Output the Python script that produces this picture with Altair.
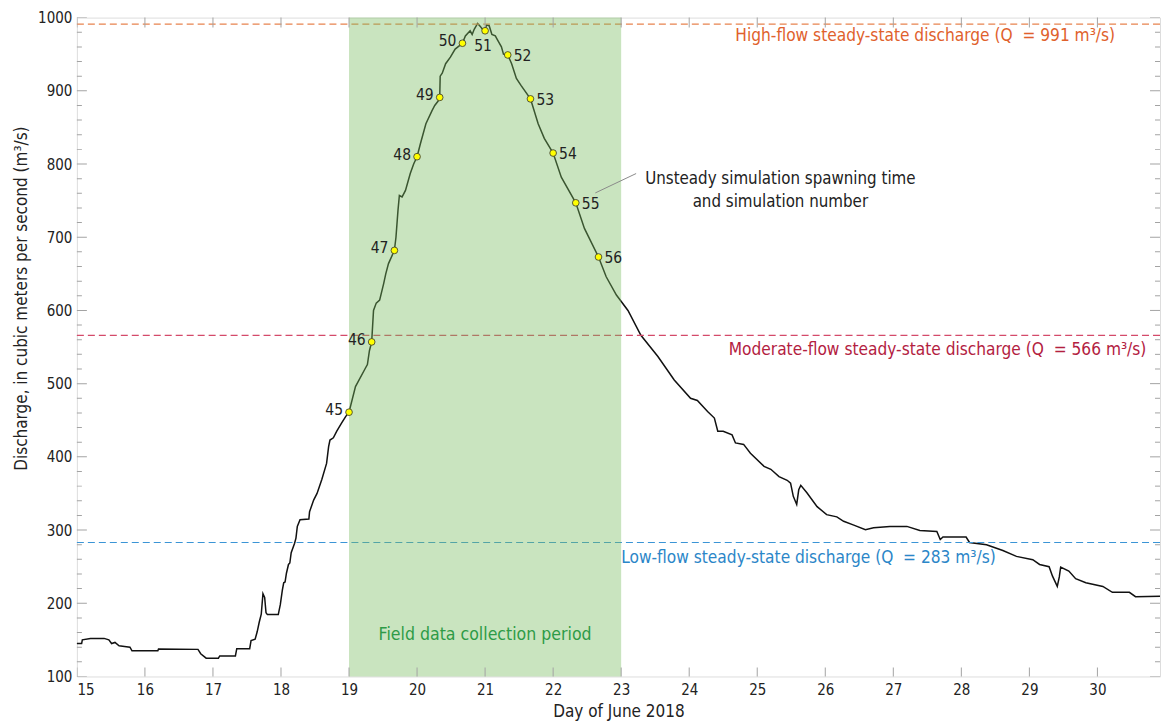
import altair as alt
import pandas as pd

# ---------------- data ----------------
day = [15.00, 15.07, 15.08, 15.20, 15.40, 15.47, 15.51, 15.56, 15.62, 15.70, 15.78, 15.81,
       16.19, 16.20, 16.78, 16.82, 16.90, 17.08, 17.10, 17.33, 17.35, 17.54, 17.56, 17.62,
       17.65, 17.68, 17.71, 17.735, 17.76, 17.78, 17.80, 17.96, 17.99, 18.02, 18.04, 18.06,
       18.08, 18.11, 18.13, 18.15, 18.20, 18.22, 18.24, 18.28, 18.41, 18.42, 18.48, 18.53,
       18.60, 18.67, 18.70, 18.72, 18.77, 18.82, 18.89, 18.95, 19.00, 19.095, 19.24, 19.27,
       19.30, 19.333, 19.36, 19.40, 19.45, 19.51, 19.54, 19.58, 19.667, 19.69, 19.72, 19.74,
       19.78, 19.83, 19.90, 19.95, 20.00, 20.05, 20.13, 20.22, 20.26, 20.31, 20.333, 20.34,
       20.37, 20.42, 20.49, 20.56, 20.667, 20.71, 20.78, 20.81, 20.84, 20.89, 20.93, 20.97,
       21.00, 21.02, 21.06, 21.10, 21.15, 21.18, 21.24, 21.27, 21.333, 21.39, 21.46, 21.53,
       21.667, 21.78, 21.87, 22.00, 22.12, 22.333, 22.46, 22.667, 22.78, 22.93, 23.10, 23.29,
       23.54, 23.78, 24.02, 24.12, 24.27, 24.37, 24.42, 24.50, 24.63, 24.68, 24.80, 24.90,
       25.10, 25.20, 25.32, 25.44, 25.49, 25.53, 25.58, 25.61, 25.64, 25.73, 25.88, 26.02,
       26.17, 26.27, 26.41, 26.59, 26.71, 26.95, 27.20, 27.39, 27.64, 27.69, 27.73, 28.07,
       28.12, 28.37, 28.61, 28.81, 29.05, 29.15, 29.29, 29.34, 29.41, 29.44, 29.46, 29.58,
       29.68, 29.83, 30.08, 30.22, 30.47, 30.56, 30.92]
discharge = [145, 145, 150, 152, 152, 150, 145, 146.5, 142, 141, 140, 135,
             135, 137.5, 137, 131, 125, 125, 128, 128, 138, 138, 149, 151,
             161, 174, 185, 213, 208, 187, 184.5, 184.5, 198, 218, 228, 229,
             241, 253, 255, 269, 282, 289, 305, 314, 315, 325, 341, 350,
             369, 391, 414, 423, 426, 435, 446, 455, 461, 496, 521, 526,
             545, 557, 600, 610, 614, 637, 650, 664, 682, 700, 737, 757,
             755, 764, 787, 800, 810, 828, 855, 873, 880, 886, 891, 920,
             924, 937, 946, 957, 965, 975, 982, 977, 984, 992, 988, 983,
             982, 990, 989, 977, 975, 970, 960, 950, 949, 937, 917, 907,
             889, 855, 835, 815, 782, 747, 712, 673, 646, 621, 600, 566,
             537, 505, 480, 477, 462, 453, 435, 435, 430, 419, 417, 405,
             387, 383, 373, 368, 364, 346, 335, 355, 361, 351, 332, 321,
             318, 312, 307, 300.5, 303, 305, 305, 299.5, 298, 287, 290.5, 290.5,
             283, 280, 272, 264, 259.5, 253, 250, 237, 223, 236, 249.5, 244,
             233.5, 228, 223, 215, 215, 209, 209.5]

sim_number = [45, 46, 47, 48, 49, 50, 51, 52, 53, 54, 55, 56]
sim_day = [19.0, 19.333, 19.667, 20.0, 20.333, 20.667, 21.0, 21.333, 21.667, 22.0, 22.333, 22.667]
sim_q = [461, 557, 682, 810, 891, 965, 982, 949, 889, 815, 747, 673]

steady_q = [991, 566, 283]
steady_label = ["High-flow steady-state discharge (Q\u00a0 = 991 m\u00b3/s)",
                "Moderate-flow steady-state discharge (Q\u00a0 = 566 m\u00b3/s)",
                "Low-flow steady-state discharge (Q\u00a0 = 283 m\u00b3/s)"]
steady_text_color = ["#e0612c", "#b3213f", "#2b86c8"]
steady_line_color = ["#e8834f", "#d44a6a", "#3b95d6"]

period = [19, 23]
x_ticks = list(range(15, 31))
y_major = list(range(100, 1001, 100))
y_minor = [v for v in range(100, 1001, 20) if v % 100 != 0]
X_MIN, X_MAX = 15, 30.92
Y_MIN, Y_MAX = 100, 1000

FONT = "'Liberation Sans Narrow', 'DejaVu Sans Condensed', 'Roboto Condensed', 'Arial Narrow', Roboto, sans-serif"
AX = "#a3a3a3"
TXT = "#222222"

xs = alt.Scale(domain=[X_MIN, X_MAX], nice=False, zero=False)
ys = alt.Scale(domain=[Y_MIN, Y_MAX], nice=False, zero=False)

flow = pd.DataFrame({"day": day, "q": discharge})
sims = pd.DataFrame({"day": sim_day, "q": sim_q, "n": [str(n) for n in sim_number]})


def X(f):
    return alt.X(f, scale=xs)


def Y(f):
    return alt.Y(f, scale=ys)


line = alt.Chart(flow).mark_line(color="#111111", strokeWidth=1.5).encode(
    x=alt.X("day:Q", scale=xs,
            axis=alt.Axis(values=x_ticks, format="d", ticks=False, domain=False, grid=False,
                          labelFontSize=15, labelPadding=6, labelColor=TXT,
                          title="Day of June 2018", titleFontSize=17, titleFontWeight="normal",
                          titleColor=TXT, titleY=27, titleBaseline="top")),
    y=alt.Y("q:Q", scale=ys,
            axis=alt.Axis(values=y_major, format="d", ticks=False, domain=False, grid=False,
                          labelFontSize=15, labelPadding=5, labelColor=TXT,
                          title="Discharge, in cubic meters per second (m\u00b3/s)",
                          titleFontSize=17, titleFontWeight="normal", titleColor=TXT,
                          titleY=281, titleX=-46)),
)

steady = pd.DataFrame({"q": steady_q, "c": steady_line_color})
rules = alt.Chart(steady).mark_rule(strokeDash=[7, 4], strokeWidth=1.2).encode(
    y=Y("q:Q"),
    color=alt.Color("c:N", scale=None),
)

band = alt.Chart(pd.DataFrame({"a": [period[0]], "b": [period[1]]})).mark_rect(
    color="#78bc5f", opacity=0.4).encode(x=X("a:Q"), x2="b")


def tick_layer(values, along, edge, size, orient):
    df = pd.DataFrame({"v": values, "e": [edge] * len(values)})
    if along == "y":
        enc = dict(y=Y("v:Q"), x=X("e:Q"))
    else:
        enc = dict(x=X("v:Q"), y=Y("e:Q"))
    return alt.Chart(df).mark_tick(orient=orient, size=size, thickness=1, color=AX,
                                   clip=True, opacity=1).encode(**enc)


ticks = [
    tick_layer(y_major, "y", X_MIN, 20, "horizontal"),
    tick_layer(y_minor, "y", X_MIN, 10, "horizontal"),
    tick_layer(y_major, "y", X_MAX, 20, "horizontal"),
    tick_layer(y_minor, "y", X_MAX, 10, "horizontal"),
    tick_layer(x_ticks, "x", Y_MIN, 18, "vertical"),
    tick_layer(x_ticks, "x", Y_MAX, 20, "vertical"),
]

markers = alt.Chart(sims).mark_circle(size=45, fill="#ffff00", stroke="#333333",
                                       strokeWidth=0.8, opacity=1).encode(
    x=X("day:Q"), y=Y("q:Q"))

left_lab = alt.Chart(sims.iloc[0:6]).mark_text(align="right", baseline="middle", dx=-6, dy=-2,
                                                fontSize=15.5, color=TXT).encode(
    x=X("day:Q"), y=Y("q:Q"), text="n:N")
below_lab = alt.Chart(sims.iloc[6:7]).mark_text(align="center", baseline="middle", dx=-2, dy=15,
                                                 fontSize=15.5, color=TXT).encode(
    x=X("day:Q"), y=Y("q:Q"), text="n:N")
right_lab = alt.Chart(sims.iloc[7:]).mark_text(align="left", baseline="middle", dx=6, dy=1,
                                                fontSize=15.5, color=TXT).encode(
    x=X("day:Q"), y=Y("q:Q"), text="n:N")

# annotation texts (positions in data units)
ann = pd.DataFrame({
    "x": [30.26, 30.72, 23.0],
    "y": [975.5, 546, 262],
    "t": steady_label,
    "c": steady_text_color,
})
ann_r = alt.Chart(ann.iloc[0:2]).mark_text(align="right", baseline="middle", fontSize=17.2).encode(
    x=X("x:Q"), y=Y("y:Q"), text="t:N", color=alt.Color("c:N", scale=None))
ann_l = alt.Chart(ann.iloc[2:3]).mark_text(align="left", baseline="middle", fontSize=17.2).encode(
    x=X("x:Q"), y=Y("y:Q"), text="t:N", color=alt.Color("c:N", scale=None))

field = alt.Chart(pd.DataFrame({"x": [21.0], "y": [156], "t": ["Field data collection period"]})).mark_text(
    align="center", baseline="middle", fontSize=17.6, color="#2e9b47").encode(
    x=X("x:Q"), y=Y("y:Q"), text="t:N")

unsteady = alt.Chart(pd.DataFrame({"x": [25.34], "y": [779],
                                   "t": ["Unsteady simulation spawning time\nand simulation number"]})).mark_text(
    align="center", baseline="middle", fontSize=16.8, color=TXT, lineBreak="\n", lineHeight=23).encode(
    x=X("x:Q"), y=Y("y:Q"), text="t:N")

leader = alt.Chart(pd.DataFrame({"x": [22.62], "y": [760.5], "x2": [23.22], "y2": [787]})).mark_rule(
    color="#8a8a8a", strokeWidth=1).encode(
    x=X("x:Q"), y=Y("y:Q"), x2="x2", y2="y2")

chart = alt.layer(
    line, rules, band, *ticks, leader, markers, left_lab, below_lab, right_lab,
    ann_r, ann_l, field, unsteady
).properties(
    width=1085, height=660,
    autosize=alt.AutoSizeParams(type="none"),
    padding={"left": 69, "top": 9, "right": 2, "bottom": 47},
    background="white",
).configure_view(
    stroke=AX, strokeWidth=1
).configure(
    font=FONT
)

chart.save("out.html", embed_options={"renderer": "svg", "actions": False})
